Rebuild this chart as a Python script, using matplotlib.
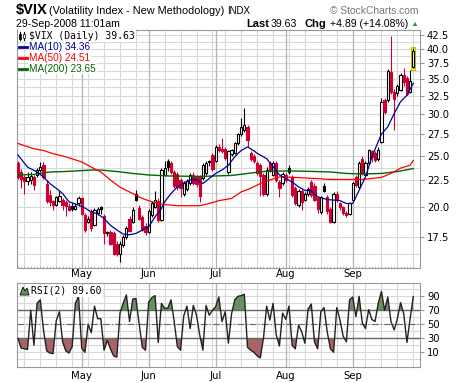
import matplotlib
matplotlib.use("Agg")
import matplotlib.pyplot as plt
from matplotlib.patches import Rectangle
from matplotlib.lines import Line2D
from matplotlib.ticker import NullFormatter, FixedLocator, FixedFormatter
import numpy as np
import pandas as pd

# trading days on the chart: 3-Apr-2008 .. 29-Sep-2008
dates = pd.bdate_range("2008-04-03", "2008-09-29")
dates = dates[~dates.isin(pd.to_datetime(["2008-05-26", "2008-07-04", "2008-09-01"]))]

opens = [24.2, 23.3, 22.8, 22.4, 22.5, 22.8, 23.0, 23.5, 24.0, 22.1, 21.1, 20.5, 20.2, 20.5, 20.6, 20.4, 20.1, 20.1, 19.8, 20.3,
         20.75, 19.3, 18.75, 19.6, 18.5, 19.45, 20.0, 19.2, 17.8, 17.9, 17.8, 17.0, 16.3, 16.9, 17.55, 19.0, 18.75, 21.2, 19.9, 19.15, 18.4,
         17.9, 19.3, 20.0, 20.5, 18.9, 23.0, 24.5, 24.2, 23.3, 23.1, 22.5, 21.2, 21.6, 22.2, 23.0, 22.8, 22.8, 22.7, 23.2, 24.4, 25.1,
         24.4, 26.0, 25.8, 25.8, 23.3, 25.2, 25.3, 26.4, 27.5, 28.0, 28.4, 25.3, 25.0, 24.2, 24.0, 23.0, 21.2, 24.2, 23.0, 24.2, 22.3, 22.2,
         23.0, 23.7, 22.8, 21.7, 20.15, 21.4, 20.6, 21.2, 22.3, 21.9, 20.75, 19.56, 21.9, 20.9, 19.85, 18.75, 21.2, 20.3, 20.0, 19.5, 19.4,
         20.6, 22.8, 21.8, 24.7, 23.0, 24.2, 25.5, 25.3, 24.7, 26.6, 31.9, 31.9, 36.1, 33.1, 32.9, 33.4, 35.6, 35.1, 33.1, 36.9]
highs = [24.5, 23.6, 23.0, 23.3, 23.3, 23.0, 23.7, 24.3, 24.3, 22.5, 21.5, 20.6, 21.0, 21.5, 20.8, 20.6, 20.3, 20.3, 20.3, 21.0,
         20.9, 19.5, 19.2, 19.8, 19.9, 20.0, 20.1, 19.4, 18.0, 18.1, 18.0, 17.2, 17.2, 17.7, 18.4, 19.2, 20.0, 21.5, 20.2, 19.3, 18.6,
         19.8, 20.5, 21.4, 20.8, 23.7, 24.5, 24.7, 24.4, 23.5, 23.3, 22.7, 22.4, 22.6, 23.2, 23.3, 23.0, 23.0, 24.2, 24.4, 24.6, 25.3,
         26.2, 26.3, 27.1, 26.0, 25.6, 25.8, 26.6, 27.6, 29.5, 30.9, 28.6, 25.5, 25.2, 24.4, 24.2, 23.2, 23.8, 24.4, 24.4, 24.4, 22.5, 23.3,
         23.2, 24.0, 23.0, 21.9, 21.6, 21.6, 21.3, 21.8, 22.5, 22.2, 20.9, 21.0, 22.2, 21.1, 20.0, 21.3, 21.4, 20.4, 20.1, 19.6, 20.4,
         22.3, 23.0, 24.4, 25.0, 24.4, 25.8, 25.7, 25.5, 26.0, 32.2, 32.2, 36.6, 42.2, 33.5, 34.3, 35.9, 36.7, 35.5, 36.4, 40.1]
lows = [22.6, 21.7, 21.2, 22.0, 22.1, 21.5, 22.8, 23.3, 22.6, 20.3, 20.1, 19.7, 20.1, 20.4, 19.7, 19.2, 19.6, 19.6, 19.7, 20.1,
        19.3, 17.9, 18.6, 18.0, 18.4, 19.3, 19.4, 17.0, 17.6, 16.9, 16.2, 16.1, 15.7, 16.8, 17.4, 17.9, 18.6, 20.5, 18.9, 18.0, 17.7,
        17.8, 19.1, 19.9, 18.7, 18.8, 22.9, 23.4, 23.1, 21.7, 21.5, 20.9, 21.0, 21.4, 22.0, 22.0, 21.8, 20.4, 22.5, 23.0, 23.9, 23.4,
        24.3, 25.4, 25.3, 24.6, 23.1, 25.0, 25.2, 26.2, 27.3, 27.8, 26.0, 24.5, 24.2, 23.0, 21.0, 21.0, 21.0, 23.3, 22.9, 22.3, 20.9, 22.0,
        22.3, 23.1, 20.9, 20.2, 20.0, 19.7, 20.5, 21.0, 20.9, 20.5, 19.5, 19.4, 21.3, 19.4, 18.6, 18.6, 20.4, 19.7, 19.3, 19.1, 19.3,
        20.5, 21.8, 21.6, 23.0, 22.8, 24.0, 24.3, 24.3, 24.5, 26.4, 30.1, 31.7, 32.8, 28.0, 32.5, 33.2, 33.9, 32.6, 32.9, 36.7]
closes = [22.8, 22.6, 22.4, 22.8, 22.9, 22.0, 23.5, 23.8, 22.8, 20.5, 20.4, 20.2, 20.9, 21.0, 20.2, 20.1, 19.7, 19.8, 20.1, 20.75,
          19.4, 18.1, 19.0, 18.2, 19.7, 19.8, 19.85, 17.8, 17.95, 17.0, 16.3, 16.25, 17.0, 17.55, 18.2, 18.0, 19.7, 20.6, 19.0, 18.1, 17.9,
          19.6, 20.3, 20.6, 18.9, 23.5, 23.7, 23.8, 23.3, 21.9, 21.8, 21.7, 22.2, 22.4, 23.0, 22.2, 22.1, 21.0, 24.0, 24.2, 24.3, 23.6,
          26.0, 25.6, 25.5, 24.8, 25.5, 25.7, 26.4, 27.5, 28.4, 28.6, 26.8, 24.7, 24.4, 23.2, 22.9, 21.2, 23.5, 23.4, 24.2, 22.5, 21.7, 23.1,
          22.5, 23.3, 21.05, 20.3, 21.4, 20.4, 21.2, 21.6, 21.05, 20.6, 19.85, 20.9, 21.4, 19.6, 18.75, 21.2, 20.6, 20.0, 19.5, 19.3, 20.3,
          22.2, 22.0, 24.2, 23.15, 24.2, 25.6, 24.9, 24.6, 25.7, 31.7, 30.3, 36.2, 33.1, 32.1, 33.9, 35.7, 34.6, 32.8, 34.74, 39.63]

# moving averages at these trading days
ma10_day = [0, 3, 6, 8, 10, 12, 14, 16, 19, 21, 23, 25, 27, 29, 31, 33, 35, 37, 39, 41,
            43, 45, 46, 48, 50, 52, 54, 56, 58, 60, 62, 64, 66, 68, 70, 72, 73, 75, 78, 80,
            82, 84, 86, 88, 90, 92, 94, 97, 99, 101, 103, 105, 107, 109, 111, 114, 116, 118, 120, 122, 124]
ma10 = [25.1, 23.8, 23.3, 22.8, 22.15, 21.7, 21.2, 20.45, 20.15, 19.9, 19.55, 19.4, 19.0, 18.45, 18.07, 17.75, 17.7, 17.8, 18.07, 18.33,
        19.15, 19.85, 20.45, 21.2, 21.83, 22.2, 22.5, 22.5, 22.15, 22.65, 23.15, 23.5, 24.0, 24.9, 25.6, 26.0, 25.8, 25.3, 24.7, 23.85,
        23.0, 22.65, 22.3, 21.83, 21.5, 21.45, 20.9, 20.65, 20.6, 20.55, 20.3, 20.3, 21.5, 22.8, 24.9, 27.5, 28.4, 30.1, 31.7, 32.6, 34.36]
ma50_day = [0, 5, 8, 11, 15, 20, 23, 26, 29, 32, 36, 39, 42, 46, 50, 54, 57, 60, 63, 67,
            70, 73, 77, 82, 87, 93, 98, 103, 108, 114, 117, 120, 123, 124]
ma50 = [26.4, 25.8, 25.6, 25.25, 24.9, 24.35, 23.8, 23.3, 22.5, 21.8, 21.2, 20.75, 20.45, 20.2, 20.1, 20.1, 20.1, 20.3, 20.55, 20.75,
        21.35, 21.7, 22.3, 22.8, 22.75, 22.65, 22.55, 22.55, 22.55, 22.75, 23.15, 23.7, 24.0, 24.51]
ma200_day = [0, 5, 10, 15, 23, 26, 31, 36, 41, 47, 57, 67, 72, 77, 82, 87, 93, 98, 103, 108, 114, 119, 124]
ma200 = [23.0, 23.05, 23.3, 23.35, 23.5, 23.5, 23.35, 23.15, 23.0, 22.9, 22.85, 22.95, 23.15, 23.35, 23.4, 23.4, 23.35, 23.3, 23.15,
         23.1, 23.15, 23.35, 23.65]

rsi = [30, 16, 15, 14, 70, 20, 80, 85, 42, 12, 9, 8, 55, 68, 25, 12, 9, 18, 80, 90,
       16, 10, 50, 38, 76, 58, 58, 13, 27, 15, 5, 3, 66, 80, 92, 54, 86, 87, 51, 17, 13,
       82, 88, 91, 24, 80, 73, 73, 85, 54, 18, 13, 62, 76, 44, 77, 63, 35, 13, 77, 63, 70,
       75, 89, 54, 68, 23, 65, 85, 90, 91, 93, 17, 13, 10, 5, 2, 30, 76, 56, 80, 35, 19, 66,
       57, 76, 20, 15, 49, 39, 23, 72, 79, 25, 15, 68, 74, 39, 15, 10, 74, 56, 33, 25, 85,
       89, 61, 90, 52, 44, 71, 57, 54, 80, 97, 70, 89, 54, 42, 58, 81, 65, 24, 58, 89.6]

W, H = 460, 383
RED = "#cc0033"
GRID = "#d9d9d9"
MGRID = "#b4b4b4"
plt.rcParams["font.family"] = ["DejaVu Sans"]
SANS = "Liberation Sans"
MONO = "DejaVu Sans Mono"


def fx(px):
    return px / W


def fy(py):
    return 1 - py / H


n = len(closes)
x = np.arange(n)
week_pos = [i for i in range(1, n) if dates[i].isocalendar()[1] != dates[i - 1].isocalendar()[1]]
month_pos = [i for i in range(1, n) if dates[i].month != dates[i - 1].month]
month_lab = [dates[i].strftime("%b") for i in month_pos]

fig = plt.figure(figsize=(W / 100, H / 100), dpi=100)
ax = fig.add_axes([fx(16.7), fy(268), fx(420 - 16.7), (268 - 30) / H])
ax2 = fig.add_axes([fx(16.7), fy(366.7), fx(420 - 16.7), (366.7 - 283.3) / H])

# ---- price panel
ax.set_yscale("log")
ax.set_ylim(15.3, 43.4)
ax.set_xlim(-0.4, 126.1)
major = np.arange(17.5, 43, 2.5)
ax.yaxis.set_major_locator(FixedLocator(major))
ax.yaxis.set_minor_locator(FixedLocator(np.arange(16.25, 43, 1.25)))
ax.yaxis.set_major_formatter(FixedFormatter(["%.1f" % v for v in major]))
ax.yaxis.set_minor_formatter(NullFormatter())
ax.yaxis.tick_right()
ax.tick_params(axis="y", which="major", labelsize=7.2, length=3, color="#999999", pad=2)
ax.tick_params(axis="y", which="minor", length=0)
ax.set_xticks(x, minor=True)
ax.set_xticks([])
ax.tick_params(axis="x", which="minor", length=1.5, color="#aaaaaa", direction="in")
for v in np.arange(16.25, 43, 1.25):
    ax.axhline(v, color=GRID, lw=0.8, zorder=0)
for p in week_pos:
    ax.axvline(p, color=GRID, lw=0.8, zorder=0)
for p in month_pos:
    ax.axvline(p, color=MGRID, lw=0.9, zorder=0)

# highlight on the live candle
ax.add_patch(Rectangle((n - 1 - 0.6, 36.5), 1.2, 40.3 - 36.5, facecolor="#ffff00", edgecolor="#b5b500", lw=0.6, zorder=2))

for i in range(n):
    o, h, l, c = opens[i], highs[i], lows[i], closes[i]
    prev = closes[i - 1] if i else o
    col = "black" if c >= prev else RED
    ax.vlines(i, l, h, color=col, lw=0.8, zorder=3)
    lo, hi = min(o, c), max(o, c)
    face = col if c < o else "white"
    ax.add_patch(Rectangle((i - 0.35, lo), 0.7, hi - lo, facecolor=face, edgecolor=col, lw=0.8, zorder=4))

ax.plot(ma200_day, ma200, color="#006600", lw=1.0, zorder=5)
ax.plot(ma50_day, ma50, color="#ff0000", lw=0.9, zorder=5)
ax.plot(ma10_day, ma10, color="#000099", lw=0.9, zorder=5)

for s in ax.spines.values():
    s.set_color("#999999")
    s.set_linewidth(0.8)

# legend in the price panel
bb = dict(facecolor="white", edgecolor="none", pad=0.6)
fig.text(fx(29), fy(35.7), "$VIX (Daily) 39.63", fontsize=7, family=MONO, va="center", bbox=bb, zorder=10)
leg = [("MA(10) 34.36", "#000099", 46.7), ("MA(50) 24.51", "#ff0000", 57.7), ("MA(200) 23.65", "#006600", 68.7)]
for txt, col, py in leg:
    fig.text(fx(29.3), fy(py), txt, fontsize=7.2, family=SANS, color=col, va="center", bbox=bb, zorder=10)
    fig.add_artist(Line2D([fx(19), fx(27)], [fy(py), fy(py)], color=col, lw=2, zorder=11))
fig.add_artist(Rectangle((fx(18), fy(41)), fx(10), 11 / H, facecolor="white", edgecolor="none", zorder=10))
fig.add_artist(Line2D([fx(20.5), fx(20.5)], [fy(40), fy(32)], color="black", lw=0.8, zorder=11))
fig.add_artist(Rectangle((fx(19.5), fy(38.5)), fx(2), 4 / H, facecolor="black", edgecolor="black", lw=0.5, zorder=11))
fig.add_artist(Line2D([fx(24), fx(24)], [fy(40), fy(32)], color="black", lw=0.8, zorder=11))
fig.add_artist(Rectangle((fx(23), fy(38)), fx(2), 4 / H, facecolor="white", edgecolor="black", lw=0.5, zorder=11))

# ---- RSI panel
ax2.set_xlim(-0.4, 126.1)
ax2.set_ylim(-10.6, 108.6)
for v in range(0, 101, 10):
    ax2.axhline(v, color=GRID, lw=0.8, zorder=0)
for p in week_pos:
    ax2.axvline(p, color=GRID, lw=0.8, zorder=0)
for p in month_pos:
    ax2.axvline(p, color=MGRID, lw=0.9, zorder=0)
r = np.array(rsi, dtype=float)
ax2.fill_between(x, r, 70, where=r >= 70, interpolate=True, color="#6b8f63", lw=0, zorder=1)
ax2.fill_between(x, r, 30, where=r <= 30, interpolate=True, color="#a66464", lw=0, zorder=1)
ax2.axhline(70, color="#666666", lw=1.0, zorder=2)
ax2.axhline(30, color="#666666", lw=1.0, zorder=2)
ax2.axhline(50, color="#666666", lw=0.8, ls=(0, (6, 2, 1, 2)), zorder=2)
ax2.plot(x, r, color="#222222", lw=1.0, zorder=3)
ax2.yaxis.tick_right()
ax2.set_yticks([90, 70, 50, 30, 10])
ax2.tick_params(axis="y", labelsize=7.2, length=3, color="#999999", pad=2)
ax2.set_xticks(month_pos)
ax2.set_xticklabels(month_lab)
ax2.tick_params(axis="x", labelsize=7.3, length=0, labeltop=True, labelbottom=True, pad=3)
for s in ax2.spines.values():
    s.set_color("#999999")
    s.set_linewidth(0.8)
fig.text(fx(31.5), fy(290.7), "RSI(2) 89.60", fontsize=7, family=MONO, va="center", bbox=bb, zorder=10)
fig.add_artist(plt.Polygon([[fx(20), fy(295)], [fx(23), fy(287)], [fx(25), fy(291)], [fx(27), fy(288)], [fx(29), fy(295)]],
                           closed=True, facecolor="#6b8f63", edgecolor="black", lw=0.6, zorder=11))

# ---- header
fig.text(fx(16), fy(10), "$VIX", fontsize=10.5, weight="bold", family=SANS, va="center")
fig.text(fx(48.7), fy(10.5), "(Volatility Index - New Methodology)", fontsize=7.8, family=SANS, va="center")
fig.text(fx(227), fy(10.5), "INDX", fontsize=7, family=SANS, va="center")
fig.text(fx(418.7), fy(10.5), "\u00a9 StockCharts.com", fontsize=7.4, family=SANS, color="#777777", va="center", ha="right")
fig.text(fx(15.7), fy(24), "29-Sep-2008 11:01am", fontsize=7.6, family=SANS, va="center")
fig.text(fx(246), fy(24), "Last", fontsize=8, weight="bold", family=SANS, va="center")
fig.text(fx(270.5), fy(24), "39.63", fontsize=7.6, family=SANS, va="center")
fig.text(fx(305), fy(24), "Chg", fontsize=8, weight="bold", family=SANS, va="center")
fig.text(fx(330), fy(24), "+4.89 (+14.08%)", fontsize=7.6, family=SANS, va="center")
fig.add_artist(plt.Polygon([[fx(412.7), fy(26)], [fx(417.3), fy(26)], [fx(415), fy(22)]], closed=True,
                           facecolor="#2e8b2e", edgecolor="none"))

fig.savefig("out.png", dpi=100)
